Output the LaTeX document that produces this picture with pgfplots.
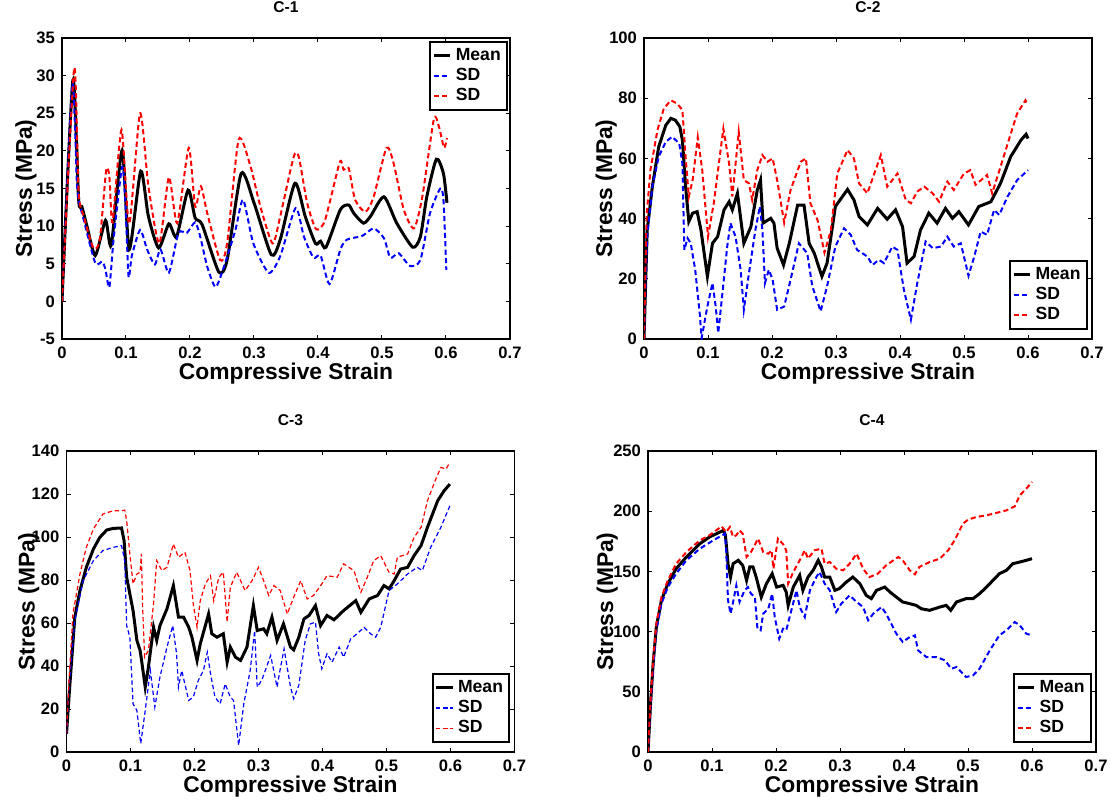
\documentclass[border=0pt]{standalone}
\usepackage{fontspec}
\setmainfont{Liberation Sans}
\usepackage{pgfplots}
\pgfplotsset{compat=1.18}
\definecolor{mblue}{RGB}{0,0,255}
\definecolor{mred}{RGB}{255,0,0}
\pgfplotsset{
  panel/.style={
    scale only axis, width=224pt, height=150.5pt,
    xmin=0, xmax=0.7, xtick={0,0.1,0.2,0.3,0.4,0.5,0.6,0.7},
    xtick pos=both, ytick pos=both,
    tick align=inside, major tick length=2.2pt,
    axis line style={line width=0.8pt},
    every tick/.style={line width=0.5pt, black},
    /pgf/number format/assume math mode=true,
    ticklabel style={font=\bfseries\fontsize{8.3}{9}\selectfont},
    xticklabel style={yshift=-0.5pt},
    label style={font=\bfseries\fontsize{11.4}{13}\selectfont},
    title style={font=\bfseries\fontsize{7.8}{9}\selectfont, at={(axis description cs:0.5,1)}, anchor=base, yshift=7pt},
    xlabel={Compressive Strain}, ylabel={Stress (MPa)},
    xlabel style={at={(axis description cs:0.5,0)}, anchor=base, yshift=-20.3pt},
    legend style={font=\bfseries\fontsize{8.8}{9.8}\selectfont, draw=black, line width=1pt, inner sep=1pt, row sep=-1.5pt, legend cell align=left},
    legend image code/.code={\draw[#1] (0cm,0cm) -- (0.29cm,0cm);},
    mean/.style={black, line width=1.5pt},
    sdb/.style={mblue, line width=1pt, dash pattern=on 2.6pt off 1.6pt},
    sdr/.style={mred, line width=1pt, dash pattern=on 2.6pt off 1.6pt},
    sdbt/.style={mblue, line width=0.6pt, dash pattern=on 2.2pt off 1.4pt},
    sdrt/.style={mred, line width=0.6pt, dash pattern=on 2.2pt off 1.4pt},
  }
}
\begin{document}
\begin{tikzpicture}
\useasboundingbox (0,0) rectangle (555.5pt,400pt);
% ---------------- C-1 ----------------
\begin{axis}[panel, at={(31pt,230.5pt)}, anchor=south west, title={C-1},
  ymin=-5, ymax=35, ytick={-5,0,5,10,15,20,25,30,35},
  ylabel style={at={(axis description cs:-0.067,0.5)}, anchor=base},
  legend style={at={(0.995,0.99)}, anchor=north east}]
\addplot[mean, smooth, tension=0.4] coordinates {
(0,0) (0.017,29.4) (0.026,13.5) (0.031,12.6) (0.039,10) (0.052,6.1) (0.068,10.75) (0.077,7.5) (0.094,20.1) (0.105,6.9) (0.123,17.3) (0.135,11.3) (0.151,7.1) (0.167,10.3) (0.179,8.6) (0.197,14.8) (0.208,11.1) (0.219,10.2) (0.245,3.9) (0.258,5.5) (0.280,17.0) (0.300,13.1) (0.327,6.2) (0.341,8.2) (0.364,15.7) (0.380,11.3) (0.396,7.7) (0.404,8.0) (0.4125,7.2) (0.435,12.2) (0.448,12.8) (0.456,11.7) (0.471,10.4) (0.482,11.3) (0.503,13.9) (0.523,10.4) (0.548,7.2) (0.560,8.6) (0.570,13.9) (0.585,18.9) (0.596,17.0) (0.6015,13.1)};
\addlegendentry{Mean}
\addplot[sdb, smooth, tension=0.4] coordinates {
(0,0) (0.016,28.8) (0.023,16.2) (0.026,13.5) (0.034,10.8) (0.052,5.1) (0.063,5.3) (0.068,4.2) (0.074,1.9) (0.081,8.6) (0.094,17.9) (0.099,13.1) (0.104,3.3) (0.109,6.0) (0.122,9.5) (0.133,6.9) (0.145,4.9) (0.154,6.9) (0.167,3.8) (0.182,9.1) (0.195,9.1) (0.208,10.5) (0.216,8.6) (0.227,4.6) (0.240,1.9) (0.253,4.6) (0.271,9.5) (0.283,13.5) (0.299,7.7) (0.323,3.8) (0.341,6.0) (0.365,12.4) (0.378,8.6) (0.393,5.8) (0.404,6.1) (0.418,2.3) (0.435,6.9) (0.445,8.2) (0.469,8.7) (0.487,9.7) (0.503,8.4) (0.513,5.8) (0.526,6.4) (0.544,4.7) (0.560,5.5) (0.575,11.7) (0.591,15.0) (0.596,13.5) (0.6005,4.2)};
\addlegendentry{SD}
\addplot[sdr, smooth, tension=0.4] coordinates {
(0,0) (0.019,31.0) (0.026,14.4) (0.034,11.3) (0.049,7.1) (0.059,8.2) (0.069,17.4) (0.074,16.6) (0.079,10.5) (0.093,22.8) (0.105,10.3) (0.122,25.0) (0.135,15.3) (0.152,7.7) (0.167,16.5) (0.180,10.4) (0.198,20.4) (0.208,12.6) (0.217,15.3) (0.227,11.7) (0.247,5.5) (0.258,7.7) (0.276,21.5) (0.294,18.1) (0.310,12.6) (0.329,7.7) (0.341,11.3) (0.362,19.2) (0.370,19.2) (0.383,13.1) (0.397,9.6) (0.411,10.8) (0.434,18.5) (0.440,17.5) (0.448,17.7) (0.458,13.5) (0.474,11.9) (0.487,13.9) (0.507,20.4) (0.518,18.4) (0.534,12.2) (0.550,9.7) (0.563,13.9) (0.581,24.2) (0.589,23.2) (0.597,20.4) (0.6015,21.7)};
\addlegendentry{SD}
\end{axis}
% ---------------- C-2 ----------------
\begin{axis}[panel, at={(322pt,230.5pt)}, anchor=south west, title={C-2},
  ymin=0, ymax=100, ytick={0,20,40,60,80,100},
  ylabel style={at={(axis description cs:-0.0714,0.5)}, anchor=base},
  legend style={at={(0.99,0.03)}, anchor=south east}]
\addplot[mean] coordinates {
(0,0) (0.005,36.2) (0.013,50.6) (0.023,63.9) (0.034,71.0) (0.042,73.3) (0.049,72.7) (0.056,70.5) (0.060,66.1) (0.065,50.6) (0.070,39.0) (0.076,41.8) (0.083,42.3) (0.089,36.2) (0.099,20.8) (0.107,31.8) (0.115,34.0) (0.125,42.9) (0.133,45.6) (0.138,42.9) (0.146,48.4) (0.156,31.8) (0.167,37.3) (0.177,49.5) (0.182,52.8) (0.186,38.5) (0.198,40.1) (0.203,38.5) (0.208,30.2) (0.218,24.6) (0.227,31.8) (0.240,44.5) (0.250,44.5) (0.258,31.8) (0.266,28.5) (0.278,20.8) (0.286,25.2) (0.299,44.0) (0.318,49.7) (0.328,46.2) (0.336,40.7) (0.349,37.9) (0.365,43.4) (0.380,39.8) (0.393,42.9) (0.404,37.3) (0.411,25.2) (0.422,27.4) (0.432,36.2) (0.445,41.8) (0.458,38.5) (0.471,43.4) (0.482,40.1) (0.492,42.3) (0.507,37.9) (0.523,44.0) (0.542,45.6) (0.557,51.7) (0.573,60.6) (0.589,66.1) (0.597,68.0) (0.600,66.6)};
\addlegendentry{Mean}
\addplot[sdb] coordinates {
(0,0) (0.005,34.0) (0.013,50.6) (0.023,60.6) (0.034,65.5) (0.044,67.2) (0.055,65.0) (0.060,58.3) (0.063,29.6) (0.068,33.5) (0.073,31.8) (0.080,23.0) (0.087,8.6) (0.090,0.3) (0.099,10.8) (0.107,18.6) (0.112,10.8) (0.116,2.0) (0.122,14.1) (0.130,30.7) (0.135,38.5) (0.143,34.0) (0.151,23.0) (0.156,9.7) (0.164,21.9) (0.174,36.2) (0.181,44.0) (0.185,36.2) (0.189,18.6) (0.195,23.0) (0.201,19.7) (0.208,9.7) (0.219,10.8) (0.229,19.7) (0.242,31.8) (0.255,28.5) (0.263,17.5) (0.276,9.2) (0.286,17.5) (0.299,30.7) (0.3125,36.8) (0.323,34.6) (0.333,29.6) (0.349,27.4) (0.357,24.6) (0.367,26.3) (0.375,25.2) (0.388,30.7) (0.396,29.6) (0.406,16.4) (0.417,6.4) (0.427,18.6) (0.440,32.4) (0.451,30.2) (0.464,30.7) (0.474,34.0) (0.484,30.7) (0.495,31.8) (0.507,21.0) (0.516,27.4) (0.526,35.7) (0.536,34.6) (0.547,42.9) (0.555,41.2) (0.568,47.3) (0.583,52.8) (0.600,56.1)};
\addlegendentry{SD}
\addplot[sdr] coordinates {
(0,0) (0.004,40.7) (0.010,56.1) (0.021,69.4) (0.031,76.6) (0.042,79.3) (0.052,78.2) (0.060,76.0) (0.065,60.6) (0.070,47.3) (0.076,52.8) (0.084,67.0) (0.091,56.1) (0.100,34.0) (0.109,45.1) (0.124,69.9) (0.133,58.3) (0.138,47.3) (0.148,68.8) (0.156,52.8) (0.164,51.7) (0.169,46.2) (0.177,56.1) (0.185,61.1) (0.193,58.9) (0.201,60.0) (0.208,52.8) (0.219,38.7) (0.229,49.5) (0.245,58.9) (0.253,60.0) (0.260,45.1) (0.271,39.6) (0.282,28.7) (0.292,36.2) (0.302,55.0) (0.318,62.8) (0.328,60.0) (0.336,51.7) (0.349,48.4) (0.370,61.1) (0.380,50.6) (0.396,55.0) (0.409,46.2) (0.417,45.1) (0.427,49.0) (0.438,50.6) (0.451,48.4) (0.461,45.6) (0.474,52.3) (0.484,49.5) (0.500,55.0) (0.510,56.1) (0.518,51.2) (0.536,54.5) (0.544,48.4) (0.557,57.2) (0.570,66.1) (0.583,74.9) (0.596,79.3) (0.600,77.7)};
\addlegendentry{SD}
\end{axis}
% ---------------- C-3 ----------------
\begin{axis}[panel, at={(33.25pt,24pt)}, anchor=south west, title={C-3},
  ymin=0, ymax=140, ytick={0,20,40,60,80,100,120,140},
  ylabel style={at={(axis description cs:-0.0714,0.5)}, anchor=base},
  legend style={at={(0.99,0.03)}, anchor=south east}]
\addplot[mean] coordinates {
(0,8.5) (0.005,30.2) (0.013,62.7) (0.021,75.1) (0.031,85.9) (0.042,94.4) (0.052,99.8) (0.063,103.3) (0.073,104.0) (0.086,104.2) (0.090,98.3) (0.094,81.3) (0.099,73.5) (0.104,65.8) (0.110,51.9) (0.115,47.2) (0.117,43.3) (0.123,30.2) (0.128,39.5) (0.136,58.0) (0.141,51.9) (0.146,58.8) (0.157,66.6) (0.167,77.4) (0.175,62.7) (0.183,62.7) (0.191,58.0) (0.196,53.4) (0.204,42.6) (0.209,50.3) (0.222,64.2) (0.227,55.0) (0.235,53.4) (0.245,55.0) (0.251,41.8) (0.256,48.8) (0.264,44.1) (0.272,42.6) (0.282,48.8) (0.292,68.1) (0.298,56.5) (0.308,57.3) (0.313,55.0) (0.321,62.7) (0.329,51.9) (0.339,59.6) (0.350,48.8) (0.355,47.5) (0.363,53.4) (0.371,61.9) (0.379,63.5) (0.389,68.1) (0.397,58.8) (0.407,63.5) (0.418,61.5) (0.433,65.8) (0.452,70.4) (0.460,65.0) (0.473,71.2) (0.486,72.8) (0.496,77.4) (0.504,75.9) (0.512,79.7) (0.522,85.1) (0.533,85.9) (0.543,91.3) (0.554,96.0) (0.564,104.5) (0.580,116.9) (0.590,121.5) (0.599,124.6)};
\addlegendentry{Mean}
\addplot[sdbt] coordinates {
(0,8.5) (0.004,30.2) (0.013,61.1) (0.026,79.7) (0.042,89.0) (0.057,93.7) (0.073,95.2) (0.086,96.0) (0.091,89.0) (0.094,58.8) (0.099,53.4) (0.104,22.4) (0.110,19.3) (0.116,3.9) (0.123,19.3) (0.131,37.9) (0.138,20.9) (0.146,34.8) (0.157,48.8) (0.166,58.8) (0.172,45.7) (0.175,30.2) (0.180,37.9) (0.191,24.0) (0.198,25.5) (0.206,33.3) (0.214,37.9) (0.220,46.4) (0.225,36.4) (0.232,25.5) (0.240,22.4) (0.248,31.7) (0.256,25.5) (0.261,24.0) (0.269,3.1) (0.277,22.4) (0.287,37.9) (0.294,56.5) (0.298,30.2) (0.305,33.3) (0.319,44.9) (0.329,30.2) (0.334,38.7) (0.340,48.0) (0.350,30.2) (0.355,24.8) (0.363,31.0) (0.373,51.9) (0.381,59.6) (0.389,60.4) (0.394,45.7) (0.399,38.7) (0.407,45.7) (0.415,41.8) (0.426,48.8) (0.433,44.1) (0.444,52.6) (0.454,55.0) (0.465,58.0) (0.475,55.0) (0.483,53.4) (0.491,58.0) (0.504,75.1) (0.517,78.2) (0.533,82.8) (0.548,85.9) (0.556,84.4) (0.569,95.2) (0.585,104.5) (0.599,114.5)};
\addlegendentry{SD}
\addplot[sdrt] coordinates {
(0,8.5) (0.004,33.3) (0.010,64.2) (0.021,82.8) (0.031,95.2) (0.042,103.7) (0.057,110.7) (0.073,112.2) (0.086,112.2) (0.091,112.5) (0.094,107.6) (0.099,92.1) (0.104,78.2) (0.110,82.8) (0.115,83.6) (0.117,92.1) (0.119,67.3) (0.122,44.1) (0.128,47.2) (0.136,68.9) (0.141,89.0) (0.149,84.4) (0.157,85.9) (0.167,96.7) (0.175,90.6) (0.185,92.9) (0.193,84.4) (0.198,68.9) (0.204,58.0) (0.209,70.4) (0.217,78.2) (0.225,82.0) (0.230,70.4) (0.238,81.3) (0.245,83.6) (0.251,60.4) (0.256,76.6) (0.266,83.6) (0.279,75.1) (0.290,79.7) (0.300,85.9) (0.308,79.7) (0.316,72.8) (0.324,77.4) (0.334,75.1) (0.345,64.2) (0.355,72.0) (0.366,79.7) (0.376,71.2) (0.386,72.8) (0.399,78.2) (0.407,82.0) (0.423,81.3) (0.433,87.5) (0.449,84.4) (0.460,74.3) (0.470,81.3) (0.480,89.0) (0.491,91.3) (0.504,83.6) (0.512,82.8) (0.517,90.6) (0.533,92.1) (0.543,99.8) (0.554,104.5) (0.564,116.9) (0.577,126.9) (0.585,132.4) (0.593,131.6) (0.599,134.7)};
\addlegendentry{SD}
\end{axis}
% ---------------- C-4 ----------------
\begin{axis}[panel, at={(324pt,24pt)}, anchor=south west, title={C-4},
  ymin=0, ymax=250, ytick={0,50,100,150,200,250},
  ylabel style={at={(axis description cs:-0.078,0.5)}, anchor=base},
  legend style={at={(0.99,0.03)}, anchor=south east}]
\addplot[mean] coordinates {
(0,0) (0.004,40.1) (0.008,73.4) (0.013,103.8) (0.021,126.0) (0.031,139.8) (0.044,152.3) (0.060,162.0) (0.081,173.0) (0.096,178.6) (0.107,181.3) (0.118,184.1) (0.121,180.0) (0.125,156.4) (0.129,145.3) (0.133,156.4) (0.141,159.2) (0.148,155.0) (0.154,142.6) (0.159,153.7) (0.164,153.7) (0.169,145.3) (0.177,128.7) (0.185,139.8) (0.194,148.1) (0.201,137.0) (0.211,138.4) (0.216,132.9) (0.219,121.8) (0.227,137.0) (0.237,146.7) (0.242,134.3) (0.250,145.3) (0.258,150.9) (0.266,159.2) (0.271,153.7) (0.276,145.3) (0.284,145.3) (0.292,134.3) (0.299,135.7) (0.310,141.2) (0.320,145.3) (0.331,139.8) (0.341,130.1) (0.349,127.4) (0.357,134.3) (0.370,137.0) (0.378,132.9) (0.388,128.7) (0.398,124.6) (0.409,123.2) (0.419,121.8) (0.427,119.0) (0.440,117.7) (0.456,120.4) (0.466,121.8) (0.473,117.7) (0.482,124.6) (0.497,127.4) (0.508,127.4) (0.518,131.5) (0.529,137.0) (0.539,142.6) (0.549,148.1) (0.560,150.9) (0.570,156.4) (0.581,157.8) (0.591,159.2) (0.600,160.6)};
\addlegendentry{Mean}
\addplot[sdb] coordinates {
(0,0) (0.004,37.4) (0.008,70.6) (0.013,101.1) (0.021,123.2) (0.031,137.0) (0.044,148.1) (0.060,159.2) (0.081,168.9) (0.102,175.8) (0.120,181.3) (0.122,170.3) (0.125,126.0) (0.129,114.9) (0.133,124.6) (0.138,138.4) (0.143,124.6) (0.151,134.3) (0.156,137.0) (0.161,131.5) (0.167,128.7) (0.171,102.4) (0.176,101.1) (0.180,114.9) (0.188,119.0) (0.194,131.5) (0.198,112.1) (0.205,94.1) (0.211,102.4) (0.216,101.1) (0.224,117.7) (0.232,134.3) (0.237,120.4) (0.245,112.1) (0.253,134.3) (0.263,145.3) (0.268,149.5) (0.276,139.8) (0.284,134.3) (0.294,116.3) (0.302,123.2) (0.315,130.1) (0.326,124.6) (0.336,120.4) (0.344,109.4) (0.352,114.9) (0.365,120.4) (0.372,114.9) (0.388,98.3) (0.398,91.4) (0.409,95.5) (0.417,96.9) (0.422,84.4) (0.435,78.9) (0.451,78.9) (0.464,76.1) (0.474,69.2) (0.482,70.6) (0.497,62.3) (0.508,63.7) (0.518,69.2) (0.534,84.4) (0.549,96.9) (0.560,101.1) (0.573,108.0) (0.581,105.2) (0.591,98.3) (0.600,96.9)};
\addlegendentry{SD}
\addplot[sdr] coordinates {
(0,0) (0.004,42.9) (0.008,76.1) (0.013,106.6) (0.021,128.7) (0.031,142.6) (0.044,156.4) (0.060,166.1) (0.081,175.8) (0.096,180.0) (0.115,187.4) (0.122,182.7) (0.128,186.9) (0.133,178.6) (0.138,180.0) (0.143,184.1) (0.148,181.3) (0.154,162.0) (0.161,166.1) (0.172,177.2) (0.180,166.1) (0.188,164.7) (0.193,167.5) (0.196,152.3) (0.203,177.2) (0.211,172.7) (0.216,167.5) (0.219,139.8) (0.227,149.5) (0.237,159.2) (0.245,167.5) (0.250,160.6) (0.260,167.5) (0.271,168.9) (0.276,156.4) (0.284,157.8) (0.294,152.3) (0.305,150.9) (0.315,156.4) (0.326,164.7) (0.336,152.3) (0.346,145.3) (0.359,148.1) (0.372,155.0) (0.391,162.0) (0.398,159.2) (0.409,150.9) (0.417,147.6) (0.424,153.7) (0.440,157.8) (0.456,160.6) (0.469,167.5) (0.479,175.8) (0.492,189.6) (0.500,193.0) (0.513,195.2) (0.529,196.6) (0.539,197.9) (0.560,200.7) (0.573,204.0) (0.581,213.2) (0.591,218.7) (0.600,224.3)};
\addlegendentry{SD}
\end{axis}
\end{tikzpicture}
\end{document}
